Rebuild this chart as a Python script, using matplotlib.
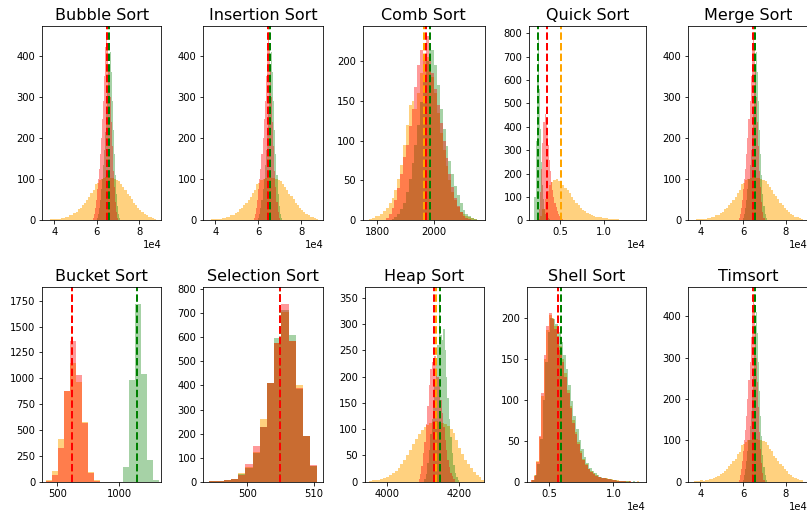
import numpy as np
import matplotlib
matplotlib.use("Agg")
import matplotlib.pyplot as plt

# ---------------------------------------------------------------------------
# Histogram data: for every series a bin start, a bin width and the counts.
# Series colours: orange, green, red (drawn in that order).
# ---------------------------------------------------------------------------

# Bubble / Insertion / Merge / Timsort share the same measurements
inv_orange_start, inv_orange_step = 37000, 1000
inv_orange = [1, 2, 2, 3, 2, 4, 5, 6, 7, 9,
              12, 14, 18, 21, 27, 30, 38, 43, 50, 56,
              67, 73, 88, 90, 97, 100, 102, 104, 104, 103,
              102, 100, 98, 96, 88, 80, 74, 63, 58, 51,
              43, 38, 30, 26, 19, 15, 12, 9, 7, 5, 3]
inv_green_start, inv_green_step = 60000, 500
inv_green = [5, 15, 30, 50, 75, 100, 135, 170, 215, 265, 320, 380, 410,
             360, 290, 220, 160, 110, 65, 35, 15, 5]
inv_red_start, inv_red_step = 58000, 500
inv_red = [5, 15, 30, 50, 75, 100, 125, 160, 200, 245, 290, 350, 420, 450,
           430, 370, 300, 240, 180, 120, 80, 45, 20, 5]
inv_means = [65000, 65700, 64600]

# Comb Sort
comb_orange_start, comb_orange_step = 1770, 10
comb_orange = [2, 3, 5, 6, 8, 12, 16, 22, 28, 38, 52, 70, 95, 120, 145, 150,
               140, 160, 185, 200, 205, 195, 180, 160, 135, 110, 88, 68, 50,
               36, 25, 17, 11, 8, 5, 4, 3, 2, 1]
comb_green_start, comb_green_step = 1850, 10
comb_green = [2, 4, 8, 14, 22, 35, 52, 72, 95, 120, 148, 175, 200, 222, 214,
              195, 170, 140, 115, 93, 75, 58, 43, 32, 22, 13, 8, 5, 3, 2]
comb_red_start, comb_red_step = 1830, 10
comb_red = [3, 8, 15, 25, 40, 58, 80, 95, 118, 140, 168, 195, 214, 205, 232,
            200, 185, 165, 145, 122, 100, 78, 58, 42, 28, 18, 11, 6, 3, 2]
comb_means = [1964, 1984, 1972]

# Quick Sort
quick_orange_start, quick_orange_step = 2500, 250
quick_orange = [5, 20, 50, 90, 125, 150, 165, 172, 175, 170, 160, 150, 138,
                128, 115, 100, 88, 76, 64, 53, 45, 38, 31, 26, 22, 19, 16, 14,
                12, 10, 9, 8, 7, 6, 5, 4, 4, 3, 3, 2, 2, 2, 1, 1, 1, 1, 1]
quick_green_start, quick_green_step = 2100, 125
quick_green = [100, 340, 618, 790, 560, 390, 250, 150, 90, 50, 28, 15, 8, 4, 2]
quick_red_start, quick_red_step = 2500, 125
quick_red = [15, 50, 120, 220, 330, 420, 455, 430, 380, 320, 260, 210, 165,
             130, 100, 75, 55, 40, 28, 20, 13, 8, 5, 3, 2]
quick_means = [5110, 2540, 3520]

# Bucket Sort
bucket_orange_start, bucket_orange_step = 408, 48.5
bucket_orange = [15, 100, 410, 875, 1150, 960, 580, 95, 20]
bucket_green_start, bucket_green_step = 1035, 48.5
bucket_green = [140, 980, 1718, 1040, 205, 15]
bucket_red_start, bucket_red_step = 408, 48.5
bucket_red = [5, 60, 330, 880, 1360, 1030, 570, 80, 10]
bucket_means = [620, 1149, 621.6]

# Selection Sort
sel_start, sel_step = 494.3, 1.08
sel_orange = [2, 3, 6, 12, 35, 60, 122, 262, 412, 575, 705, 585, 400, 190, 65]
sel_green = [1, 2, 5, 11, 30, 58, 120, 228, 410, 598, 715, 608, 385, 190, 65]
sel_red = [2, 2, 5, 10, 28, 73, 148, 228, 410, 575, 740, 585, 390, 190, 68]
sel_means = [504.9, 504.95, 504.9]

# Heap Sort
heap_orange_start, heap_orange_step = 3950, 8
heap_orange = [2, 3, 3, 4, 5, 7, 9, 12, 16, 20, 27, 33, 42, 50, 60, 72, 82,
               90, 98, 104, 108, 112, 114, 115, 114, 112, 110, 106, 100, 93,
               80, 64, 52, 42, 34, 26, 19, 13, 8, 4]
heap_green_start, heap_green_step = 4104, 4
heap_green = [5, 15, 35, 60, 90, 120, 155, 190, 225, 260, 352, 280, 270, 290,
              250, 200, 160, 120, 85, 55, 32, 16, 8, 3]
heap_red_start, heap_red_step = 4088, 4
heap_red = [5, 15, 30, 55, 75, 110, 145, 185, 215, 228, 225, 240, 215, 200,
            180, 155, 130, 105, 80, 60, 42, 28, 17, 10, 5]
heap_means = [4136, 4146, 4132]

# Shell Sort
shell_orange_start, shell_orange_step = 3600, 200
shell_orange = [2, 8, 25, 55, 105, 150, 185, 203, 200, 190, 178, 165, 150,
                132, 112, 92, 75, 60, 48, 37, 28, 21, 16, 13, 10, 8, 6, 5, 4,
                4, 3, 3, 2, 2, 1, 1, 1, 1, 1, 0, 0, 1]
shell_green_start, shell_green_step = 3700, 200
shell_green = [2, 8, 22, 52, 100, 146, 182, 200, 198, 192, 182, 170, 155,
               138, 118, 98, 80, 64, 51, 40, 30, 23, 17, 13, 10, 8, 6, 5, 4,
               3, 3, 2, 2, 1, 1, 1, 1, 1, 0, 1]
shell_red_start, shell_red_step = 3600, 200
shell_red = [2, 7, 24, 56, 108, 155, 190, 206, 198, 186, 175, 160, 146, 128,
             108, 90, 72, 58, 46, 35, 27, 20, 15, 12, 9, 7, 6, 4, 4, 3, 3, 2,
             2, 1, 1, 1, 1, 0, 1]
shell_means = [5700, 5905, 5730]

titles = ["Bubble Sort", "Insertion Sort", "Comb Sort", "Quick Sort",
          "Merge Sort", "Bucket Sort", "Selection Sort", "Heap Sort",
          "Shell Sort", "Timsort"]

inv_series = [(inv_orange_start, inv_orange_step, inv_orange),
              (inv_green_start, inv_green_step, inv_green),
              (inv_red_start, inv_red_step, inv_red)]

panels = [
    (inv_series, inv_means),
    (inv_series, inv_means),
    ([(comb_orange_start, comb_orange_step, comb_orange),
      (comb_green_start, comb_green_step, comb_green),
      (comb_red_start, comb_red_step, comb_red)], comb_means),
    ([(quick_orange_start, quick_orange_step, quick_orange),
      (quick_green_start, quick_green_step, quick_green),
      (quick_red_start, quick_red_step, quick_red)], quick_means),
    (inv_series, inv_means),
    ([(bucket_orange_start, bucket_orange_step, bucket_orange),
      (bucket_green_start, bucket_green_step, bucket_green),
      (bucket_red_start, bucket_red_step, bucket_red)], bucket_means),
    ([(sel_start, sel_step, sel_orange),
      (sel_start, sel_step, sel_green),
      (sel_start, sel_step, sel_red)], sel_means),
    ([(heap_orange_start, heap_orange_step, heap_orange),
      (heap_green_start, heap_green_step, heap_green),
      (heap_red_start, heap_red_step, heap_red)], heap_means),
    ([(shell_orange_start, shell_orange_step, shell_orange),
      (shell_green_start, shell_green_step, shell_green),
      (shell_red_start, shell_red_step, shell_red)], shell_means),
    (inv_series, inv_means),
]

# axis limits per panel
x_limits = [(34350, 90350), (34350, 90350), (1748, 2179), (1513, 14740),
            (34350, 90350), (378, 1343), (493.4, 511.4), (3940, 4269),
            (3264, 12512), (34350, 90350)]
y_limits = [472, 472, 244, 831, 472, 1879, 808, 370, 237, 470]

# ---------------------------------------------------------------------------
# Figure layout (pixel boxes: left, right, top, bottom)
# ---------------------------------------------------------------------------
W, H = 807, 515
fig = plt.figure(figsize=(W / 72, H / 72), dpi=72)

col_lr_top = [(42.3, 161.3), (203.3, 323.3), (362.7, 485.0), (529.3, 645.7), (688.3, 808.0)]
col_lr_bot = [(42.3, 161.3), (203.3, 323.3), (365.0, 484.0), (526.7, 645.7), (688.3, 808.0)]
row_tb = [(26.0, 220.3), (287.3, 481.7)]

colors = ["orange", "green", "red"]
alphas = [0.5, 0.35, 0.4]

for i, (series, means) in enumerate(panels):
    r, c = divmod(i, 5)
    l, rr = (col_lr_top if r == 0 else col_lr_bot)[c]
    t, b = row_tb[r]
    ax = fig.add_axes([l / W, 1 - b / H, (rr - l) / W, (b - t) / H])

    for (start, step, counts), col, a in zip(series, colors, alphas):
        counts = np.asarray(counts, dtype=float)
        edges = start + step * np.arange(len(counts) + 1)
        ax.hist(edges[:-1], bins=edges, weights=counts, color=col, alpha=a)
    for m, col in zip(means, colors):
        ax.axvline(m, color=col, linestyle="--", linewidth=2)

    ax.set_xlim(*x_limits[i])
    ax.set_ylim(0, y_limits[i])
    ax.ticklabel_format(axis="x", style="sci", scilimits=(-4, 4))
    ax.set_title(titles[i], fontsize=16)

fig.savefig("out.png", dpi=72)
